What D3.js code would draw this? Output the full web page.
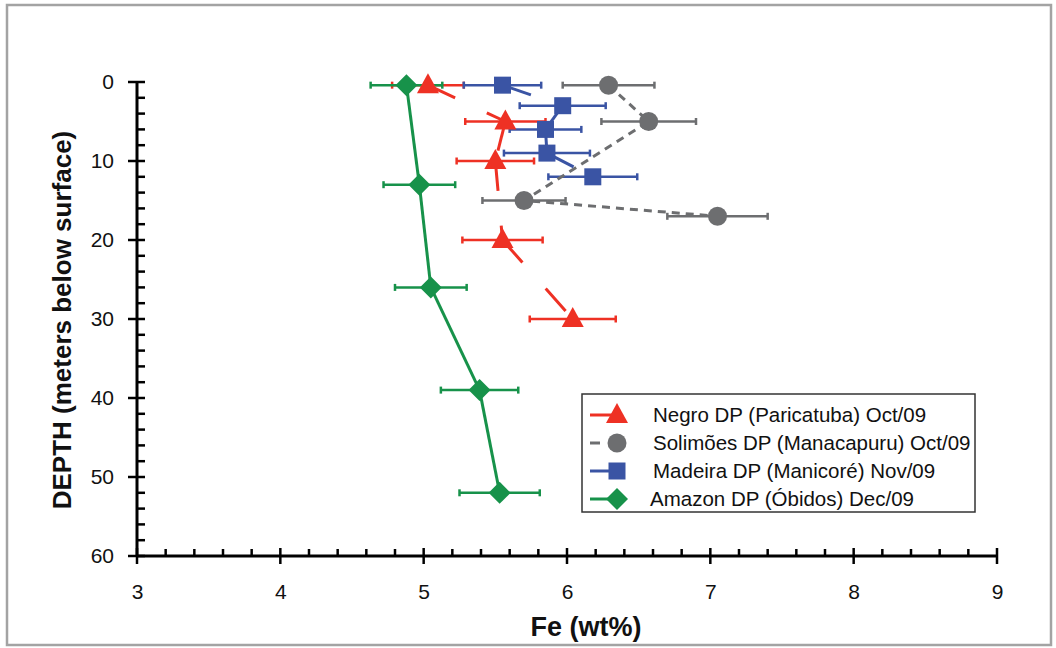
<!DOCTYPE html>
<html>
<head>
<meta charset="utf-8">
<script src="https://cdn.jsdelivr.net/npm/d3@7"></script>
<style>
  body { margin: 0; background: #fff; }
  text { font-family: Arial, "Liberation Sans", sans-serif; }
</style>
</head>
<body>
<div id="chart"></div>
<script>
// Fe content vs depth, four depth profiles

var negroFe    = [5.03, 5.57, 5.50, 5.55, 6.04];
var negroDepth = [0.4, 5, 10, 20, 30];
var negroErr   = [0.25, 0.28, 0.27, 0.28, 0.30];

var solimoesFe    = [6.29, 6.57, 5.70, 7.05];
var solimoesDepth = [0.4, 5, 15, 17];
var solimoesErr   = [0.32, 0.33, 0.29, 0.35];

var madeiraFe    = [5.55, 5.97, 5.85, 5.86, 6.18];
var madeiraDepth = [0.4, 3, 6, 9, 12];
var madeiraErr   = [0.27, 0.30, 0.25, 0.30, 0.31];

var amazonFe    = [4.88, 4.97, 5.05, 5.39, 5.53];
var amazonDepth = [0.4, 13, 26, 39, 52];
var amazonErr   = [0.25, 0.25, 0.25, 0.27, 0.28];

var xTicks = [3, 4, 5, 6, 7, 8, 9];
var yTicks = [0, 10, 20, 30, 40, 50, 60];

var seriesNames = [
  "Negro DP (Paricatuba) Oct/09",
  "Solimões DP (Manacapuru) Oct/09",
  "Madeira DP (Manicoré) Nov/09",
  "Amazon DP (Óbidos) Dec/09"
];

var svgWidth = 1056;
var svgHeight = 648;

var svg = d3.select("#chart")
  .append("svg")
  .attr("width", svgWidth)
  .attr("height", svgHeight);

// outer frame
svg.append("rect")
  .attr("x", 7).attr("y", 5)
  .attr("width", 1044).attr("height", 640)
  .attr("fill", "none")
  .attr("stroke", "#a3a3a3")
  .attr("stroke-width", 2.5);

var x = d3.scaleLinear().domain([3, 9]).range([137, 997]);
var y = d3.scaleLinear().domain([0, 60]).range([82, 556]);

function zip(fe, depth, err) {
  return fe.map(function(v, i) { return { fe: v, depth: depth[i], err: err[i] }; });
}

var series = [
  { name: seriesNames[0], color: "#ee3124", shape: "triangle", line: "solid", dash: "30 35", data: zip(negroFe, negroDepth, negroErr) },
  { name: seriesNames[1], color: "#6d6e70", shape: "circle",   line: "dash",  dash: "8 6",   data: zip(solimoesFe, solimoesDepth, solimoesErr) },
  { name: seriesNames[2], color: "#3a54a4", shape: "square",   line: "solid", dash: "30 35", data: zip(madeiraFe, madeiraDepth, madeiraErr) },
  { name: seriesNames[3], color: "#17924a", shape: "diamond",  line: "solid", dash: null,    data: zip(amazonFe, amazonDepth, amazonErr) }
];

// ---- axes ----
var axisG = svg.append("g");

function styleLabels(g) {
  g.select(".domain").remove();
  g.selectAll("text")
    .attr("fill", "#111")
    .style("font-size", "21px")
    .style("font-family", "Arial, 'Liberation Sans', sans-serif");
}

// y axis labels
var yAxis = d3.axisLeft(y).tickValues(yTicks).tickSize(0).tickPadding(23);
axisG.append("g")
  .attr("transform", "translate(137,0)")
  .call(yAxis)
  .call(styleLabels);

// x axis labels
var xAxis = d3.axisBottom(x).tickValues(xTicks).tickFormat(d3.format("d")).tickSize(0).tickPadding(28);
axisG.append("g")
  .attr("transform", "translate(0,556)")
  .call(xAxis)
  .call(styleLabels);

// minor ticks
var yMinor = d3.range(0, 61, 2).filter(function(d) { return d % 10 !== 0; });
var xMinor = d3.range(30, 91, 2).map(function(d) { return d / 10; })
  .filter(function(d) { return Math.abs(d - Math.round(d)) > 0.01; });

axisG.selectAll(".yminor").data(yMinor).enter().append("line")
  .attr("x1", 137).attr("x2", 145)
  .attr("y1", function(d) { return y(d); }).attr("y2", function(d) { return y(d); })
  .attr("stroke", "#000").attr("stroke-width", 2.5);

axisG.selectAll(".ymajor").data(yTicks).enter().append("line")
  .attr("x1", 128).attr("x2", 145)
  .attr("y1", function(d) { return y(d); }).attr("y2", function(d) { return y(d); })
  .attr("stroke", "#000").attr("stroke-width", 2.5);

axisG.selectAll(".xminor").data(xMinor).enter().append("line")
  .attr("x1", function(d) { return x(d); }).attr("x2", function(d) { return x(d); })
  .attr("y1", 549).attr("y2", 556)
  .attr("stroke", "#000").attr("stroke-width", 2.5);

axisG.selectAll(".xmajor").data(xTicks).enter().append("line")
  .attr("x1", function(d) { return x(d); }).attr("x2", function(d) { return x(d); })
  .attr("y1", 548).attr("y2", 564)
  .attr("stroke", "#000").attr("stroke-width", 2.5);

// axis lines
axisG.append("line")
  .attr("x1", x(3)).attr("x2", x(3)).attr("y1", y(0) - 1).attr("y2", y(60) + 1)
  .attr("stroke", "#000").attr("stroke-width", 3);
axisG.append("line")
  .attr("x1", x(3) - 1).attr("x2", x(9) + 1).attr("y1", y(60)).attr("y2", y(60))
  .attr("stroke", "#000").attr("stroke-width", 3);

// axis titles
svg.append("text")
  .attr("x", 586).attr("y", 636)
  .attr("text-anchor", "middle")
  .attr("font-size", 27).attr("font-weight", "bold")
  .attr("fill", "#111")
  .text("Fe (wt%)");

svg.append("text")
  .attr("transform", "translate(71,320) rotate(-90)")
  .attr("text-anchor", "middle")
  .attr("font-size", 26).attr("font-weight", "bold")
  .attr("fill", "#111")
  .text("DEPTH (meters below surface)");

// ---- error bars ----
series.forEach(function(s) {
  var g = svg.append("g").attr("stroke", s.color).attr("stroke-width", 2.5);
  s.data.forEach(function(d) {
    var cy = y(d.depth), x0 = x(d.fe - d.err), x1 = x(d.fe + d.err);
    g.append("line").attr("x1", x0).attr("x2", x1).attr("y1", cy).attr("y2", cy);
    g.append("line").attr("x1", x0).attr("x2", x0).attr("y1", cy - 3.5).attr("y2", cy + 3.5);
    g.append("line").attr("x1", x1).attr("x2", x1).attr("y1", cy - 3.5).attr("y2", cy + 3.5);
  });
});

// ---- connecting lines (dash restarts on every segment) ----
series.forEach(function(s) {
  var g = svg.append("g");
  if (s.line === "dash") {
    g.append("path")
      .datum(s.data)
      .attr("d", d3.line().x(function(d) { return x(d.fe); }).y(function(d) { return y(d.depth); }))
      .attr("fill", "none")
      .attr("stroke", s.color).attr("stroke-width", 3)
      .attr("stroke-dasharray", s.dash);
    return;
  }
  d3.pairs(s.data).forEach(function(p) {
    g.append("line")
      .attr("x1", x(p[0].fe)).attr("y1", y(p[0].depth))
      .attr("x2", x(p[1].fe)).attr("y2", y(p[1].depth))
      .attr("stroke", s.color).attr("stroke-width", 3)
      .attr("stroke-dasharray", s.dash);
  });
});

// ---- markers ----
function drawMarker(g, shape, color, cx, cy) {
  if (shape === "triangle") {
    g.append("path")
      .attr("d", "M" + cx + "," + (cy - 12) + " L" + (cx + 11) + "," + (cy + 8) + " L" + (cx - 11) + "," + (cy + 8) + " Z")
      .attr("fill", color);
  } else if (shape === "circle") {
    g.append("circle").attr("cx", cx).attr("cy", cy).attr("r", 9.5).attr("fill", color);
  } else if (shape === "square") {
    g.append("rect").attr("x", cx - 8.5).attr("y", cy - 8.5)
      .attr("width", 17).attr("height", 17).attr("fill", color);
  } else {
    g.append("path")
      .attr("d", "M" + cx + "," + (cy - 11) + " L" + (cx + 11) + "," + cy + " L" + cx + "," + (cy + 11) + " L" + (cx - 11) + "," + cy + " Z")
      .attr("fill", color);
  }
}

series.forEach(function(s) {
  var g = svg.append("g");
  s.data.forEach(function(d) {
    drawMarker(g, s.shape, s.color, x(d.fe), y(d.depth));
  });
});

// ---- legend ----
var legend = svg.append("g");
legend.append("rect")
  .attr("x", 582).attr("y", 394)
  .attr("width", 393).attr("height", 118)
  .attr("fill", "#fff")
  .attr("stroke", "#333").attr("stroke-width", 1.5);

series.forEach(function(s, i) {
  var ly = 415 + i * 28;
  var row = legend.append("g");
  row.append("line")
    .attr("x1", 590).attr("x2", s.line === "dash" ? 600 : 617)
    .attr("y1", ly).attr("y2", ly)
    .attr("stroke", s.color).attr("stroke-width", 3);
  drawMarker(row, s.shape, s.color, 617, ly);
  row.append("text")
    .attr("x", i === 3 ? 650 : 653).attr("y", ly)
    .attr("dy", "0.35em")
    .attr("font-size", 20.5)
    .attr("fill", "#111")
    .text(s.name);
});
</script>
</body>
</html>
